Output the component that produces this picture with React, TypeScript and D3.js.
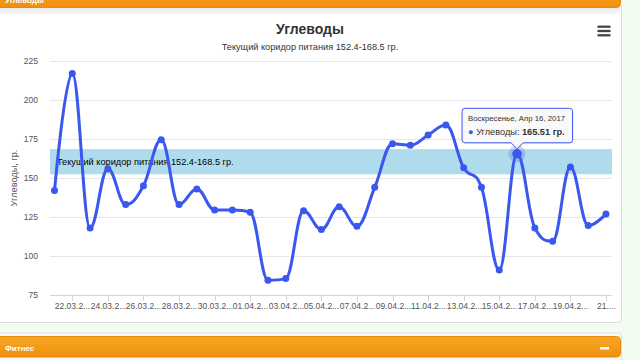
import React from "react";
import * as d3 from "d3";

const dates = [
  "21.03.2017", "22.03.2017", "23.03.2017", "24.03.2017", "25.03.2017", "26.03.2017",
  "27.03.2017", "28.03.2017", "29.03.2017", "30.03.2017", "31.03.2017", "01.04.2017",
  "02.04.2017", "03.04.2017", "04.04.2017", "05.04.2017", "06.04.2017", "07.04.2017",
  "08.04.2017", "09.04.2017", "10.04.2017", "11.04.2017", "12.04.2017", "13.04.2017",
  "14.04.2017", "15.04.2017", "16.04.2017", "17.04.2017", "18.04.2017", "19.04.2017",
  "20.04.2017", "21.04.2017",
];
const carbs = [
  142, 217, 118, 156, 133, 145, 174.5, 133, 143, 129.5, 129.5, 128, 84.5, 85.5, 129, 117,
  131.5, 119, 144, 172, 171, 177.5, 184, 156.5, 144, 91, 165.51, 118, 109.5, 157, 119.5, 127,
];
const yTicks = [75, 100, 125, 150, 175, 200, 225];
const bandRange = [152.4, 168.5];
const hoverIndex = 26;
const tooltipHeader = "Воскресенье, Апр 16, 2017";
const seriesName = "Углеводы";
const titleText = "Углеводы";
const subtitleText = "Текущий коридор питания 152.4-168.5 гр.";
const bandLabel = "Текущий коридор питания 152.4-168.5 гр.";
const yTitle = "Углеводы, гр.";

const FONT = '"Liberation Sans", Arial, sans-serif';
const LINE = "#3a58ef";

function highchartsSpline(context: any) {
  let pts: [number, number][] = [];
  return {
    areaStart() {},
    areaEnd() {},
    lineStart() {
      pts = [];
    },
    point(x: number, y: number) {
      pts.push([+x, +y]);
    },
    lineEnd() {
      const n = pts.length;
      if (!n) return;
      context.moveTo(pts[0][0], pts[0][1]);
      const ctrl = pts.map((p, i) => {
        if (i === 0 || i === n - 1) return null;
        const [px, py] = p;
        const [lx, ly] = pts[i - 1];
        const [nx, ny] = pts[i + 1];
        const s = 1.5, den = s + 1;
        const lcx = (s * px + lx) / den;
        let lcy = (s * py + ly) / den;
        const rcx = (s * px + nx) / den;
        let rcy = (s * py + ny) / den;
        let corr = 0;
        if (rcx !== lcx) corr = ((rcy - lcy) * (rcx - px)) / (rcx - lcx) + py - rcy;
        lcy += corr;
        rcy += corr;
        if (lcy > ly && lcy > py) {
          lcy = Math.max(ly, py);
          rcy = 2 * py - lcy;
        } else if (lcy < ly && lcy < py) {
          lcy = Math.min(ly, py);
          rcy = 2 * py - lcy;
        }
        if (rcy > ny && rcy > py) {
          rcy = Math.max(ny, py);
          lcy = 2 * py - rcy;
        } else if (rcy < ny && rcy < py) {
          rcy = Math.min(ny, py);
          lcy = 2 * py - rcy;
        }
        return { lcx, lcy, rcx, rcy };
      });
      for (let i = 1; i < n; i++) {
        const prev = ctrl[i - 1];
        const cur = ctrl[i];
        const [px, py] = pts[i - 1];
        const [x, y] = pts[i];
        context.bezierCurveTo(
          prev ? prev.rcx : px,
          prev ? prev.rcy : py,
          cur ? cur.lcx : x,
          cur ? cur.lcy : y,
          x,
          y
        );
      }
    },
  };
}

export default function App() {
  const plotLeft = 50, plotRight = 612;
  const x = d3.scalePoint<string>().domain(dates).range([54.5, 606]);
  const y = d3.scaleLinear().domain([75, 225]).range([295, 61]);
  const line = d3
    .line<number>()
    .x((_, i) => x(dates[i]) as number)
    .y((d) => y(d))
    .curve(highchartsSpline as any);

  const hx = x(dates[hoverIndex]) as number;
  const hy = y(carbs[hoverIndex]);
  const tipY = hy - 5;
  const boxB = tipY - 6;
  const boxT = boxB - 34.5;
  const boxL = hx - 55;
  const boxR = hx + 55.5;
  const r = 3;
  const tipPath = `M${boxL + r},${boxT} L${boxR - r},${boxT} Q${boxR},${boxT} ${boxR},${boxT + r} L${boxR},${boxB - r} Q${boxR},${boxB} ${boxR - r},${boxB} L${hx + 6},${boxB} L${hx},${tipY} L${hx - 6},${boxB} L${boxL + r},${boxB} Q${boxL},${boxB} ${boxL},${boxB - r} L${boxL},${boxT + r} Q${boxL},${boxT} ${boxL + r},${boxT} Z`;

  const last = dates.length - 1;
  const labelText = (d: string, i: number) =>
    i === last ? d.slice(0, 2) + "...." : d.slice(0, 7) + "...";

  return (
    <svg
      width={640}
      height={360}
      style={{ position: "fixed", left: 0, top: 0, fontFamily: FONT }}
    >
      <defs>
        <linearGradient id="orange" x1="0" y1="0" x2="0" y2="1">
          <stop offset="0" stopColor="#f7a726" />
          <stop offset="1" stopColor="#f0900c" />
        </linearGradient>
        <linearGradient id="hdr" x1="0" y1="0" x2="0" y2="1">
          <stop offset="0" stopColor="#e9e9e9" />
          <stop offset="1" stopColor="#f6f6f6" />
        </linearGradient>
      </defs>
      <rect x={0} y={0} width={640} height={360} fill="#f3fcf1" />

      {/* top panel */}
      <rect x={-3} y={4} width={624.5} height={318.5} rx={3} fill="#fff" stroke="#dcdcdc" />
      <rect x={0} y={7} width={620} height={7} fill="url(#hdr)" />
      <rect x={-5} y={-20} width={625.5} height={27.5} rx={4} fill="url(#orange)" stroke="#e58a08" />
      <text x={5} y={2.5} fill="#fff" fontSize={8} fontWeight="bold">Углеводы</text>

      {/* bottom panel */}
      <rect x={-3} y={333} width={624.5} height={40} rx={3} fill="#fafafa" stroke="#dcdcdc" />
      <rect x={-5} y={336.5} width={625.5} height={20.5} rx={4} fill="url(#orange)" stroke="#e58a08" />
      <text x={5} y={350.5} fill="#fff" fontSize={8} fontWeight="bold">Фитнес</text>
      <rect x={600} y={347} width={9} height={2.5} fill="#fff" />

      {/* title */}
      <text x={310} y={33.5} textAnchor="middle" fontSize={14} fontWeight="bold" fill="#333">
        {titleText}
      </text>
      <text x={310} y={50} textAnchor="middle" fontSize={9.2} fill="#333">
        {subtitleText}
      </text>

      {/* menu */}
      {[26.7, 31, 35.3].map((yy) => (
        <line key={yy} x1={597.5} x2={610.5} y1={yy} y2={yy} stroke="#444" strokeWidth={2.3} />
      ))}

      {/* plot band */}
      <rect
        x={plotLeft}
        width={plotRight - plotLeft}
        y={y(bandRange[1])}
        height={y(bandRange[0]) - y(bandRange[1])}
        fill="#afdcec"
      />

      {/* gridlines */}
      {yTicks.slice(1).map((t) => (
        <line key={t} x1={plotLeft} x2={plotRight} y1={y(t) + 0.5} y2={y(t) + 0.5} stroke="#e6e6e6" />
      ))}
      <text x={57} y={y((bandRange[0] + bandRange[1]) / 2) + 3.5} fontSize={9.2} fill="#000">
        {bandLabel}
      </text>

      {/* x axis */}
      <line x1={plotLeft} x2={plotRight} y1={y(75) + 0.5} y2={y(75) + 0.5} stroke="#ccd6eb" />
      {dates.map((d, i) =>
        i % 2 === 1 ? (
          <g key={d} transform={`translate(${Math.round(x(d) as number) + 0.5},0)`}>
            <line y1={y(75)} y2={y(75) + 6} stroke="#ccd6eb" />
            <text y={308.5} textAnchor="middle" fontSize={8.5} fill="#555">
              {labelText(d, i)}
            </text>
          </g>
        ) : null
      )}

      {/* y axis labels */}
      {yTicks.map((t) => (
        <text key={t} x={38} y={y(t) + 3} textAnchor="end" fontSize={8.5} fill="#555">
          {t}
        </text>
      ))}
      <text
        transform={`translate(17,178) rotate(-90)`}
        textAnchor="middle"
        fontSize={9.2}
        fill="#555"
      >
        {yTitle}
      </text>

      {/* series */}
      <path d={line(carbs) || ""} fill="none" stroke={LINE} strokeWidth={3} strokeLinejoin="round" />
      {carbs.map((v, i) => (
        <circle key={i} cx={x(dates[i])} cy={y(v)} r={3.5} fill={LINE} />
      ))}
      <circle cx={hx} cy={hy} r={8.5} fill={LINE} opacity={0.25} />
      <circle cx={hx} cy={hy} r={4.8} fill={LINE} />

      {/* tooltip */}
      <path d={tipPath} fill="#000" opacity={0.06} transform="translate(1,1)" />
      <path d={tipPath} fill="rgba(250,250,250,0.93)" stroke={LINE} strokeWidth={1} />
      <text x={boxL + 6} y={boxT + 13} fontSize={7.8} fill="#333">
        {tooltipHeader}
      </text>
      <text x={boxL + 6} y={boxT + 27} fontSize={9.2} fill="#333">
        <tspan fill={LINE}>●</tspan>
        <tspan> {seriesName}: </tspan>
        <tspan fontWeight="bold">{carbs[hoverIndex]} гр.</tspan>
      </text>
    </svg>
  );
}
